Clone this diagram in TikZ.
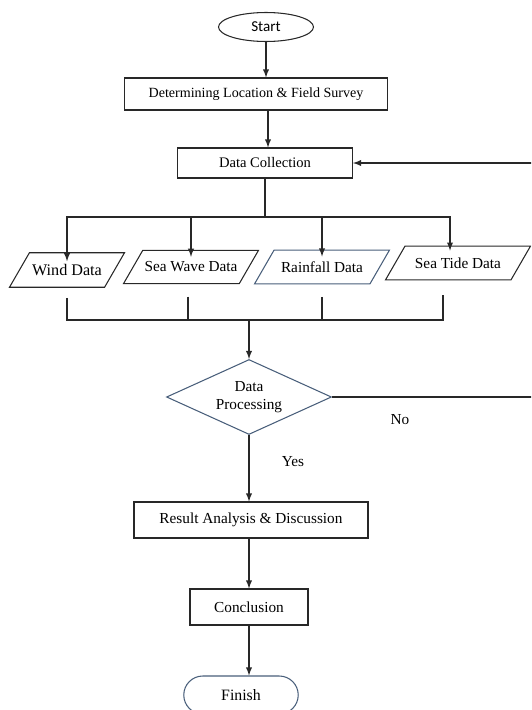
\documentclass[tikz,border=0pt]{standalone}
\usepackage{fontspec}
\setmainfont{Liberation Serif}
\newfontfamily\startfont{Carlito}
\usetikzlibrary{shapes.geometric,shapes.misc}

\definecolor{edgeblue}{RGB}{72,94,122}
\definecolor{linegrey}{RGB}{40,40,40}

\begin{document}
\begin{tikzpicture}[
x=0.02cm,
y=-0.02cm,
line width=0.6pt,
every node/.style={
font=\fontsize{8.7}{10}\selectfont,
inner sep=1pt
},
box/.style={
draw=linegrey,
minimum height=0.64cm
},
datain/.style={
draw=linegrey,
trapezium,
trapezium left angle=60,
trapezium right angle=120,
trapezium stretches body=true,
inner ysep=0.23cm
},
link/.style={
draw=linegrey
}
]

\useasboundingbox (0,0) rectangle (531,710);
\clip (0,0) rectangle (531,710);

\node[draw=linegrey, ellipse, minimum width=1.9cm, minimum height=0.58cm,
font=\startfont\fontsize{8.6}{10}\selectfont] (start) at (266,27)
{Start};

\node[box, minimum width=5.26cm, font=\fontsize{8}{10}\selectfont] (survey) at (256,94)
{Determining Location \& Field Survey};

\node[box, minimum width=3.5cm, minimum height=0.6cm, font=\fontsize{8.3}{10}\selectfont] (collect) at (265,163)
{Data Collection};

\node[datain, minimum width=2.3cm, font=\fontsize{9.2}{10}\selectfont] (wind) at (67,270)
{Wind Data};

\node[datain, minimum width=2.66cm] (wave) at (191,267)
{Sea Wave Data};

\node[datain, draw=edgeblue, minimum width=2.7cm] (rain) at (322,267)
{Rainfall Data};

\node[datain, minimum width=2.9cm] (tide) at (458,263)
{Sea Tide Data};

\node[diamond, draw=edgeblue, aspect=2.2, minimum width=3.3cm, minimum height=1.5cm,
align=center] (process) at (249,397)
{Data\\Processing};

\node[box, minimum width=4.68cm, minimum height=0.72cm] (result) at (251,520)
{Result Analysis \& Discussion};

\node[box, minimum width=2.36cm, minimum height=0.72cm] (concl) at (249,607)
{Conclusion};

\node[rounded rectangle, draw=edgeblue, minimum width=2.36cm, minimum height=0.76cm,
font=\fontsize{9}{10}\selectfont] (finish) at (241,695)
{Finish};

\node (yes) at (293,462) {Yes};

\node (no) at (400,420) {No};

\coordinate (split) at (265,217);
\coordinate (merge) at (249,320);
\coordinate (back1) at (560,397);
\coordinate (back2) at (560,163);

\draw[link, -latex] (start) -- (start |- survey.north);
\draw[link, -latex] (survey.south -| 268,0) -- (collect.north -| 268,0);

\draw[link] (collect) -- (split);
\draw[link, -latex] (split) -| ([yshift=-0.18cm]wind.north);
\draw[link, -latex] (split) -| ([yshift=-0.14cm]wave.north);
\draw[link, -latex] (split) -| ([yshift=-0.14cm]rain.north);
\draw[link, -latex] (split) -| ([xshift=-0.16cm, yshift=-0.1cm]tide.north);

\draw[link, shorten <=0.2cm] (wind.south) |- (merge);
\draw[link, shorten <=0.25cm] ([xshift=-0.06cm]wave.south) |- (merge);
\draw[link, shorten <=0.25cm] (rain.south) |- (merge);
\draw[link, shorten <=0.3cm] ([xshift=-0.3cm]tide.south) |- (merge);
\draw[link, -latex] (merge) -- (process);

\draw[link] (process.east) -- (back1) -- (back2);
\draw[link, -latex] (back2) -- (collect.east);

\draw[link, -latex] (process) -- (process |- result.north);
\draw[link, -latex] (result.south -| process) -- (concl);
\draw[link, -latex] (concl) -- (concl |- finish.north);

\end{tikzpicture}
\end{document}
